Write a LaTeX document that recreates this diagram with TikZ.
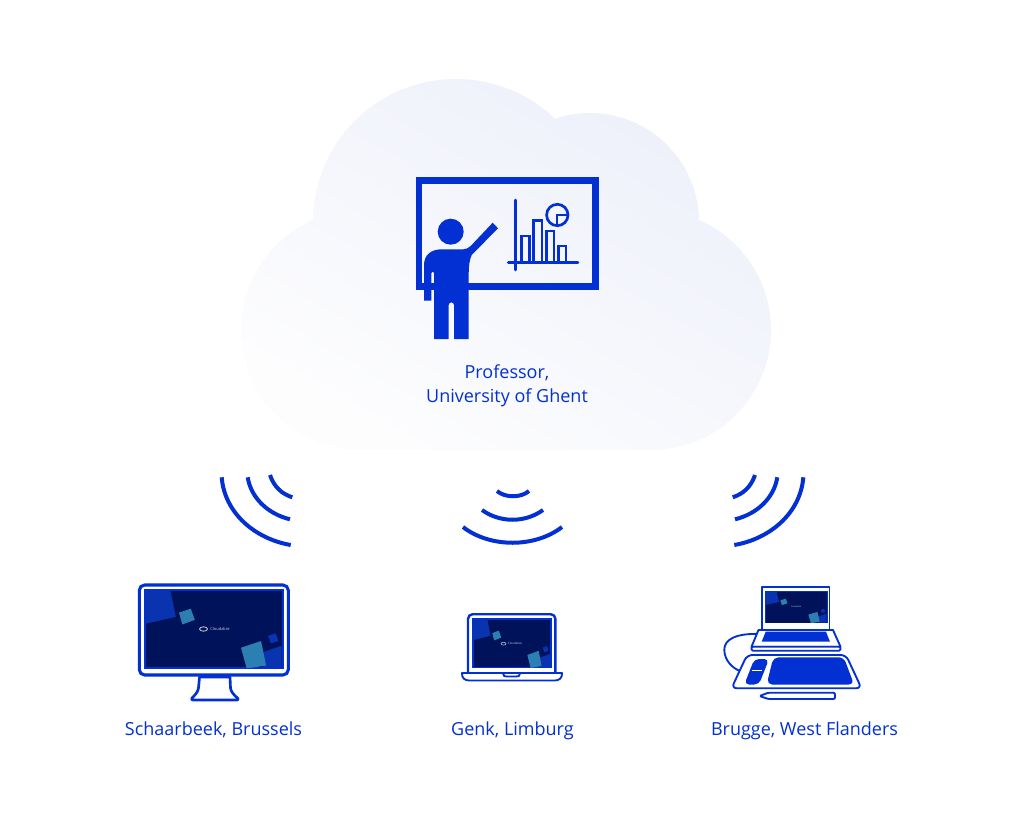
\documentclass[tikz,border=0pt]{standalone}
\usepackage{fontspec}
\setmainfont{Open Sans}
\usetikzlibrary{calc}
\definecolor{ink}{HTML}{0330D3}
\definecolor{navy}{HTML}{001259}
\definecolor{wallblue}{HTML}{0A33B0}
\definecolor{teal}{HTML}{2B7FB2}
\definecolor{cloudA}{HTML}{EDF0FA}
\definecolor{cloudB}{HTML}{FDFDFE}
\tikzset{
 wave/.style={draw=ink,line width=3pt,line cap=butt},
 label/.style={text=ink,font=\fontsize{13.5pt}{18pt}\selectfont,align=center,inner sep=0pt},
 outline/.style={draw=ink,line width=2pt,line join=round},
 thinline/.style={draw=ink,line width=1.4pt,line join=round},
 chart/.style={draw=ink,line width=2pt,line join=miter},
 logotext/.style={text=white,inner sep=0pt,opacity=.8},
}
\newcommand{\wallpaper}[3]{%
 \begin{scope}[shift={(#1)},x=#2*0.75pt,y=-#3*0.75pt]
  \fill[navy] (0,0) rectangle (1,1);
  \begin{scope}
   \clip (0,0) rectangle (1,1);
   \fill[wallblue] (0,0) -- (.18,0) -- (.22,.34) -- (0,.43) -- cycle;
   \fill[teal] (.243,.285) -- (.33,.232) -- (.36,.38) -- (.268,.44) -- cycle;
   \fill[wallblue] (.90,.59) -- (.956,.557) -- (.975,.658) -- (.92,.689) -- cycle;
   \fill[wallblue] (.848,.813) -- (1,.72) -- (1,1) -- (.865,1) -- cycle;
   \fill[teal] (.70,.746) -- (.848,.658) -- (.885,.98) -- (.742,1.02) -- cycle;
  \end{scope}
 \end{scope}}
\begin{document}
\begin{tikzpicture}[x=0.75pt,y=-0.75pt]
\useasboundingbox (0,0) rectangle (1024,820);
\fill[white] (0,0) rectangle (1024,820);
% cloud
\shade[top color=cloudA,bottom color=cloudB,shading angle=-30]
 ([shift={(361,330)}]90:120) arc[start angle=90,end angle=246.4,radius=120]
 -- ([shift={(456,222)}]181:143) arc[start angle=181,end angle=314,radius=143]
 -- ([shift={(590,222)}]251.4:109) arc[start angle=251.4,end angle=357.4,radius=109]
 -- ([shift={(651,330)}]293:120) arc[start angle=293,end angle=450,radius=120]
 -- cycle;
% professor
\draw[draw=ink,line width=5pt,line join=miter] (419,180.7) rectangle (595.3,286.7);
\fill[ink] (450.7,231.7) circle[radius=13];
\fill[ink] (492.7,222.7) -- (498,228.3) -- (471.7,255) .. controls (469.5,260) and (468.7,266) .. (468.7,273.3)
 -- (468.7,339) -- (454,339) -- (454,305) arc[start angle=0,end angle=-180,radius=2.65] -- (448.7,339) -- (434,339)
 -- (434,273) arc[start angle=0,end angle=-180,radius=1.35] -- (431.3,300.7) -- (424,300.7) -- (424,265)
 .. controls (424,255) and (431,249.3) .. (441.7,249.3) -- (463.3,249.3) .. controls (466,249.3) and (468.5,248) .. (470.7,246) -- cycle;
\draw[chart,line cap=round] (515.7,200) -- (515.7,270);
\draw[chart,line cap=round] (508.3,262.3) -- (578,262.3);
\draw[chart] (521.5,262.3) -- (521.5,236) -- (529.7,236) -- (529.7,262.3);
\draw[chart] (533.7,262.3) -- (533.7,220.5) -- (542,220.5) -- (542,262.3);
\draw[chart] (546.2,262.3) -- (546.2,231) -- (554,231) -- (554,262.3);
\draw[chart] (558.5,262.3) -- (558.5,246) -- (566,246) -- (566,262.3);
\draw[chart] (557.3,215) circle[radius=10.7];
\draw[chart] (557,225) -- (557,215) -- (568,215);
\node[label] (prof) at (507,386) {Professor,\\University of Ghent};
% waves
\draw[wave] (221.7,477.3) .. controls (224.5,513.2) and (255.2,538.9) .. (290.7,545);
\draw[wave] (247.7,477.3) .. controls (251,498) and (268,514) .. (290,519.3);
\draw[wave] (270,475) .. controls (274,487) and (282,494) .. (292.3,497.3);
\draw[wave] (463,527) .. controls (490,548) and (535,548) .. (562,527);
\draw[wave] (482,510) .. controls (500,523) and (525,523) .. (543,510);
\draw[wave] (497,491) .. controls (505,498) and (521,498) .. (529,491);
\draw[wave] (803.3,477.3) .. controls (800.5,513.2) and (769.8,538.9) .. (734.3,545);
\draw[wave] (777.3,477.3) .. controls (774,498) and (757,514) .. (735,519.3);
\draw[wave] (755,475) .. controls (751,487) and (743,494) .. (732.7,497.3);
% monitor
\draw[draw=ink,line width=2.3pt,rounded corners=4pt,fill=white] (139.3,585) rectangle (288.3,675);
\fill[ink] (144,589) rectangle (283.5,669);
\wallpaper{146,591}{135.7}{76}
\draw[white,opacity=.8,line width=.6pt] (203.5,629) ellipse[x radius=4,y radius=2.2];
\node[logotext,font=\fontsize{3pt}{3pt}\selectfont] (logoA) at (220,629) {Cloudalize};
\draw[outline] (199.5,677) -- (198.5,688) .. controls (198,692) and (195,695) .. (192,698)
 .. controls (191,699.5) and (192,700) .. (193,700) -- (237,700) .. controls (238.5,700) and (238.5,699) .. (237.5,698)
 .. controls (234,695) and (231,692) .. (230.5,688) -- (230,677) -- cycle;
% laptop
\draw[draw=ink,line width=1.8pt,rounded corners=3.5pt,fill=white] (468,672) -- (468,614.2) -- (555.4,614.2) -- (555.4,672);
\fill[ink] (472.3,618.3) rectangle (551.7,668.3);
\wallpaper{473.6,619.6}{76.8}{47.4}
\draw[white,opacity=.8,line width=.4pt] (503.5,643.7) ellipse[x radius=2.5,y radius=1.4];
\node[logotext,font=\fontsize{2.2pt}{2.2pt}\selectfont] (logoB) at (515,643.7) {Cloudalize};
\draw[thinline,fill=white] (462,673) -- (562,673) .. controls (562.5,678) and (559,680.5) .. (555,680.5) -- (469,680.5) .. controls (465,680.5) and (461.5,678) .. (462,673) -- cycle;
\draw[thinline] (503,673.5) .. controls (503,676.5) and (505,676.5) .. (507,676.5) -- (516,676.5) .. controls (518,676.5) and (520,676.5) .. (520,673.5);
% tablet setup
\draw[thinline] (760,634) .. controls (735,633) and (724,640) .. (724.3,650) .. controls (724.5,660) and (732,668) .. (740,671);
\draw[thinline,fill=white] (762,630) -- (762,587.3) -- (829.5,587.3) -- (829.5,630);
\fill[ink] (764.5,590.5) rectangle (827.5,623);
\wallpaper{765.5,591.5}{61.2}{31}
\node[logotext,font=\fontsize{1.6pt}{1.6pt}\selectfont] (logoC) at (796,606.7) {Cloudalize};
\draw[thinline,fill=white] (758.5,630) -- (833,630) -- (840.5,646.7) -- (751.5,646.7) -- cycle;
\fill[ink] (765.7,631.7) -- (826,631.7) -- (830,641.7) -- (761.7,641.7) -- cycle;
\draw[thinline,fill=white,rounded corners=1pt] (751.5,646.7) rectangle (840.5,650.7);
\draw[thinline,fill=white,rounded corners=4pt] (747,655) -- (846,655) -- (861.5,688.3) -- (731.5,688.3) -- cycle;
\fill[ink,rounded corners=4pt] (773.3,657.3) -- (843.8,657.3) -- (854,684.5) -- (766.7,684.5) -- cycle;
\fill[ink,rounded corners=3.5pt] (754.3,659) -- (769,659) -- (759,684.5) -- (744.3,684.5) -- cycle;
\draw[draw=white,line width=1pt] (751.5,670.7) -- (761.5,670.7);
\draw[thinline,rounded corners=1pt] (759.5,696) -- (768.3,692.7) -- (835,692.7) -- (835,699) -- (768.3,699) -- cycle;
% labels
\node[label,anchor=base] (a) at (213.5,735) {Schaarbeek, Brussels};
\node[label,anchor=base] (b) at (512.5,735) {Genk, Limburg};
\node[label,anchor=base] (c) at (804.5,735) {Brugge, West Flanders};
\end{tikzpicture}
\end{document}
